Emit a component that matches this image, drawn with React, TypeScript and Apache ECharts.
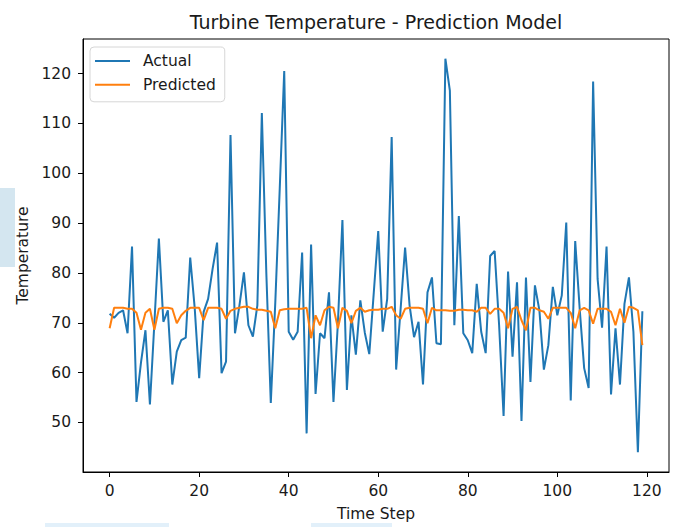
import React, { useEffect, useRef } from "react";
import * as echarts from "echarts";

const TITLE = "Turbine Temperature - Prediction Model";
const X_NAME = "Time Step";
const Y_NAME = "Temperature";
const SERIES_NAMES = ["Actual", "Predicted"];
const X_TICKS = [0, 20, 40, 60, 80, 100, 120];
const Y_TICKS = [50, 60, 70, 80, 90, 100, 110, 120];

const ACTUAL = [
  71.8, 71.0, 72.0, 72.5, 67.9, 85.3, 54.1, 62.0, 68.5, 53.6,
  70.0, 86.9, 70.2, 72.5, 57.6, 64.2, 66.5, 67.0, 83.1, 73.0,
  58.9, 72.2, 74.8, 80.8, 86.1, 59.9, 62.2, 107.7, 67.9, 73.5,
  80.1, 69.5, 67.2, 73.5, 112.1, 80.0, 53.9, 74.0, 97.0, 120.5,
  68.2, 66.6, 68.2, 84.1, 47.8, 85.7, 55.7, 67.9, 66.9, 76.1,
  54.1, 70.2, 90.6, 56.5, 71.5, 63.6, 74.5, 68.0, 63.7, 76.0,
  88.4, 68.2, 74.8, 107.3, 60.6, 72.8, 85.1, 73.5, 67.1, 70.2,
  57.6, 76.1, 79.1, 65.9, 65.7, 123.0, 116.6, 69.5, 91.4, 67.9,
  66.5, 63.9, 77.8, 68.2, 63.9, 83.4, 84.4, 69.5, 51.3, 80.3,
  63.2, 78.1, 50.3, 79.1, 58.1, 77.5, 72.5, 60.6, 65.5, 77.2,
  71.5, 75.5, 90.1, 54.4, 86.4, 72.8, 60.9, 56.9, 118.4, 78.8,
  69.0, 85.3, 55.6, 68.9, 57.6, 73.8, 79.1, 68.2, 44.0, 72.3,
];

const PREDICTED = [
  68.9, 73.0, 73.0, 73.0, 72.8, 72.8, 72.0, 68.6, 72.0, 72.8,
  68.6, 72.8, 73.0, 73.0, 72.8, 69.9, 71.5, 72.4, 73.0, 73.0,
  73.0, 70.5, 73.0, 73.0, 73.0, 72.8, 70.8, 72.4, 72.8, 73.0,
  73.2, 73.2, 72.8, 72.6, 72.6, 72.4, 72.2, 68.9, 72.5, 72.7,
  72.8, 72.8, 72.8, 72.8, 73.0, 66.9, 71.5, 69.5, 72.5, 73.2,
  73.0, 68.9, 73.0, 72.4, 69.9, 72.4, 73.0, 72.2, 72.5, 72.6,
  72.6, 72.8, 72.8, 73.2, 71.5, 70.8, 72.8, 73.0, 73.0, 73.0,
  72.8, 69.9, 73.0, 72.5, 72.5, 72.5, 72.4, 72.4, 72.6, 72.6,
  72.5, 72.5, 72.2, 73.0, 73.0, 71.8, 72.8, 72.8, 72.0, 68.9,
  72.8, 73.2, 70.5, 68.5, 73.0, 73.0, 72.5, 72.2, 70.8, 73.0,
  73.0, 73.0, 73.0, 72.0, 68.9, 72.5, 73.0, 72.5, 69.8, 72.8,
  72.8, 72.8, 72.2, 69.5, 72.8, 70.0, 73.2, 73.0, 72.5, 65.5,
];

const COLORS = ["#1f77b4", "#ff7f0e"];
const FONT = "DejaVu Sans";
const TEXT_COLOR = "#1a1a1a";

export default function App() {
  const ref = useRef<HTMLDivElement>(null);

  useEffect(() => {
    if (!ref.current) return;
    const chart = echarts.init(ref.current, null, { renderer: "svg" });
    const toPairs = (arr: number[]) => arr.map((v, i) => [i, v]);
    const n = ACTUAL.length;
    const allVals = ACTUAL.concat(PREDICTED);
    const lo = Math.min(...allVals);
    const hi = Math.max(...allVals);
    const padY = (hi - lo) * 0.05;
    const padX = (n - 1) * 0.05;

    chart.setOption({
      animation: false,
      backgroundColor: "#ffffff",
      textStyle: { fontFamily: FONT },
      grid: {
        left: 83,
        right: 6,
        top: 39,
        bottom: 52,
        show: true,
        borderColor: "#000",
        borderWidth: 1,
        containLabel: false,
      },
      legend: {
        left: 90,
        top: 47,
        orient: "vertical",
        icon: "rect",
        itemWidth: 35,
        itemHeight: 2,
        itemGap: 7.8,
        padding: [6, 9, 9, 5],
        backgroundColor: "#fff",
        borderColor: "#d6d6d6",
        borderWidth: 1,
        borderRadius: 4,
        textStyle: { fontSize: 15.5, color: TEXT_COLOR, fontFamily: FONT, padding: [0, 0, 0, 8] },
        data: SERIES_NAMES,
      },
      xAxis: {
        type: "value",
        min: -padX,
        max: n - 1 + padX,
        name: X_NAME,
        nameLocation: "middle",
        nameGap: 34,
        nameTextStyle: { fontSize: 15.5, color: TEXT_COLOR, fontFamily: FONT },
        splitLine: { show: false },
        axisLine: { show: true, onZero: false, lineStyle: { color: "#000", width: 1 } },
        axisTick: { show: true, inside: false, length: 5, customValues: X_TICKS, lineStyle: { color: "#000" } },
        axisLabel: { fontSize: 15.5, color: TEXT_COLOR, margin: 11, customValues: X_TICKS, fontFamily: FONT },
      },
      yAxis: {
        type: "value",
        min: lo - padY,
        max: hi + padY,
        name: Y_NAME,
        nameLocation: "middle",
        nameGap: 50,
        nameRotate: 90,
        nameTextStyle: { fontSize: 15.5, color: TEXT_COLOR, fontFamily: FONT },
        splitLine: { show: false },
        axisLine: { show: true, onZero: false, lineStyle: { color: "#000", width: 1 } },
        axisTick: { show: true, inside: false, length: 5, customValues: Y_TICKS, lineStyle: { color: "#000" } },
        axisLabel: { fontSize: 15.5, color: TEXT_COLOR, margin: 12, customValues: Y_TICKS, fontFamily: FONT },
      },
      graphic: [
        {
          type: "text",
          x: 376,
          y: 22,
          style: {
            text: TITLE,
            fontSize: 19,
            fontFamily: FONT,
            fill: TEXT_COLOR,
            textAlign: "center",
            textVerticalAlign: "middle",
          },
        },
        { type: "rect", shape: { x: 0, y: 188, width: 15, height: 79 }, style: { fill: "#d4e6f0" }, z: -1 },
        { type: "rect", shape: { x: 45, y: 523, width: 124, height: 4 }, style: { fill: "#e2f0fa" } },
        { type: "rect", shape: { x: 311, y: 523, width: 81, height: 4 }, style: { fill: "#e2f0fa" } },
      ],
      series: [
        {
          name: SERIES_NAMES[0],
          type: "line",
          data: toPairs(ACTUAL),
          showSymbol: false,
          symbol: "none",
          color: COLORS[0],
          lineStyle: { width: 2, color: COLORS[0] },
          z: 2,
        },
        {
          name: SERIES_NAMES[1],
          type: "line",
          data: toPairs(PREDICTED),
          showSymbol: false,
          symbol: "none",
          color: COLORS[1],
          lineStyle: { width: 2, color: COLORS[1] },
          z: 3,
        },
      ],
    });
    return () => chart.dispose();
  }, []);

  return (
    <div
      ref={ref}
      style={{ position: "fixed", left: 0, top: 0, width: 675, height: 527, background: "#fff" }}
    />
  );
}
